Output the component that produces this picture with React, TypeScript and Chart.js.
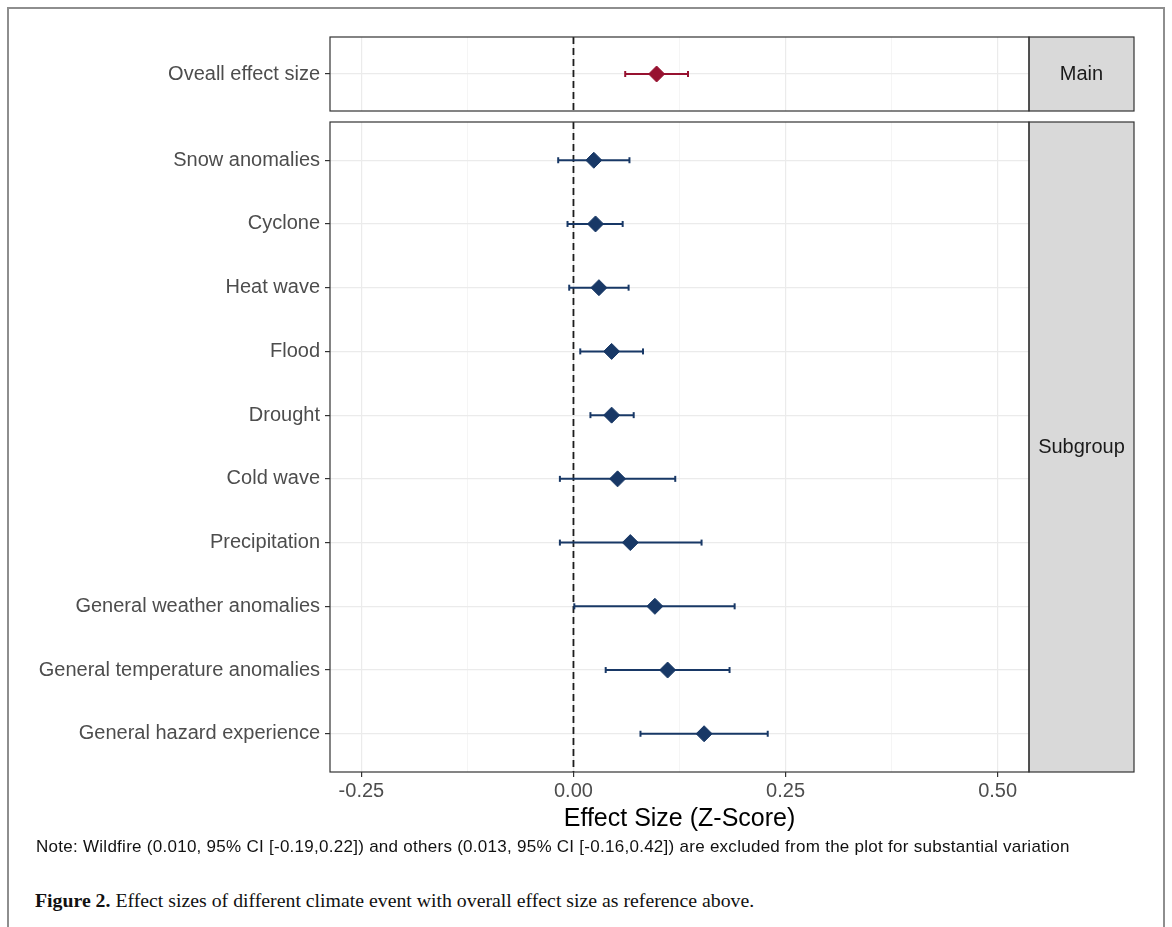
import React, { useEffect, useRef } from 'react';
import { Chart, registerables } from 'chart.js';

Chart.register(...registerables);

// ---------- data ----------
const mainLabels = ['Oveall effect size'];
const mainEst = [0.098];
const mainLo = [0.061];
const mainHi = [0.135];

const subLabels = [
  'Snow anomalies',
  'Cyclone',
  'Heat wave',
  'Flood',
  'Drought',
  'Cold wave',
  'Precipitation',
  'General weather anomalies',
  'General temperature anomalies',
  'General hazard experience',
];
const subEst = [0.024, 0.026, 0.030, 0.045, 0.045, 0.052, 0.067, 0.096, 0.111, 0.154];
const subLo = [-0.018, -0.007, -0.005, 0.008, 0.020, -0.016, -0.016, 0.001, 0.038, 0.079];
const subHi = [0.066, 0.058, 0.065, 0.082, 0.071, 0.120, 0.151, 0.190, 0.184, 0.229];

const xMajorTicks = [-0.25, 0, 0.25, 0.5];
const xMinorTicks = [-0.125, 0.125, 0.375];
const xTickLabels = ['-0.25', '0.00', '0.25', '0.50'];
const X_MIN = -0.287;
const X_MAX = 0.537;
const REF_LINE = 0;
const facetNames = ['Main', 'Subgroup'];
const xTitle = 'Effect Size (Z-Score)';
const noteText =
  'Note: Wildfire (0.010, 95% CI [-0.19,0.22]) and others (0.013, 95% CI [-0.16,0.42]) are excluded from the plot for substantial variation';
const captionBold = 'Figure 2.';
const captionText = ' Effect sizes of different climate event with overall effect size as reference above.';

const MAIN_COLOR = '#971230';
const SUB_COLOR = '#183866';
const SANS = "'Liberation Sans', Arial, Helvetica, sans-serif";

const isMajor = (v: number) => xMajorTicks.some((t) => Math.abs(t - v) < 1e-9);

const facetPlugin = {
  id: 'facet',
  afterDraw(chart: any, _args: any, opts: any) {
    const { ctx, chartArea } = chart;
    const { left, right, top, bottom } = chartArea;
    const w = 105;
    ctx.save();
    ctx.fillStyle = '#D9D9D9';
    ctx.fillRect(right, top, w, bottom - top);
    ctx.strokeStyle = '#333333';
    ctx.lineWidth = 1.2;
    ctx.strokeRect(left, top, right - left, bottom - top);
    ctx.strokeRect(right, top, w, bottom - top);
    ctx.fillStyle = '#1A1A1A';
    ctx.font = `20px ${SANS}`;
    ctx.textAlign = 'center';
    ctx.textBaseline = 'middle';
    ctx.fillText(opts.label, right + w / 2, (top + bottom) / 2);
    ctx.restore();
  },
};

function buildConfig(
  labels: string[],
  est: number[],
  lo: number[],
  hi: number[],
  color: string,
  facet: string,
  showX: boolean,
  padding: any,
  xHeight: number
): any {
  const n = labels.length;
  const yMin = -0.6;
  const yMax = n - 1 + 0.6;
  const datasets: any[] = [];
  datasets.push({
    type: 'line',
    data: [
      { x: REF_LINE, y: yMin },
      { x: REF_LINE, y: yMax },
    ],
    borderColor: '#1c1c1c',
    borderWidth: 1.8,
    borderDash: [7, 4],
    pointRadius: 0,
    order: 10,
  });
  for (let i = 0; i < n; i++) {
    datasets.push({
      type: 'line',
      data: [
        { x: lo[i], y: i },
        { x: hi[i], y: i },
      ],
      borderColor: color,
      borderWidth: 2,
      pointStyle: 'line',
      rotation: 90,
      pointRadius: 3,
      pointBorderWidth: 2,
      pointBorderColor: color,
      pointBackgroundColor: color,
      order: 5,
    });
  }
  datasets.push({
    type: 'scatter',
    data: est.map((v, i) => ({ x: v, y: i })),
    pointStyle: 'rectRot',
    pointRadius: 8,
    backgroundColor: color,
    borderColor: color,
    borderWidth: 1,
    order: 0,
  });

  return {
    type: 'scatter',
    data: { datasets },
    plugins: [facetPlugin],
    options: {
      animation: false,
      responsive: false,
      devicePixelRatio: 1,
      events: [],
      layout: { padding },
      plugins: {
        legend: { display: false },
        tooltip: { enabled: false },
        facet: { label: facet },
      },
      scales: {
        x: {
          type: 'linear',
          min: X_MIN,
          max: X_MAX,
          bounds: 'data',
          afterBuildTicks: (s: any) => {
            s.ticks = [...xMajorTicks, ...xMinorTicks]
              .sort((a, b) => a - b)
              .map((v) => ({ value: v }));
          },
          ticks: {
            display: showX,
            autoSkip: false,
            maxRotation: 0,
            padding: 2,
            color: '#4D4D4D',
            font: { family: SANS, size: 20 },
            callback: (v: number) => {
              const i = xMajorTicks.findIndex((t) => Math.abs(t - v) < 1e-9);
              return i >= 0 ? xTickLabels[i] : '';
            },
          },
          grid: {
            color: (c: any) => (c.tick && isMajor(c.tick.value) ? '#EBEBEB' : '#F2F2F2'),
            lineWidth: (c: any) => (c.tick && isMajor(c.tick.value) ? 1.2 : 0.8),
            drawTicks: showX,
            tickLength: 5,
            tickWidth: 1.2,
            tickColor: (c: any) =>
              showX && c.tick && isMajor(c.tick.value) ? '#333333' : 'rgba(0,0,0,0)',
          },
          border: { display: false },
          title: {
            display: showX,
            text: xTitle,
            color: '#000000',
            font: { family: SANS, size: 25 },
            padding: { top: 0, bottom: 0 },
          },
          afterFit: (s: any) => {
            s.height = xHeight;
          },
        },
        y: {
          type: 'linear',
          min: yMin,
          max: yMax,
          reverse: true,
          bounds: 'data',
          afterBuildTicks: (s: any) => {
            s.ticks = labels.map((_, i) => ({ value: i }));
          },
          ticks: {
            autoSkip: false,
            padding: 5,
            color: '#4D4D4D',
            font: { family: SANS, size: 20 },
            callback: (_v: number, idx: number) => labels[idx],
          },
          grid: {
            color: '#EBEBEB',
            lineWidth: 1.2,
            tickLength: 5,
            tickWidth: 1.2,
            tickColor: '#333333',
          },
          border: { display: false },
          afterFit: (s: any) => {
            s.width = 330;
          },
        },
      },
    },
  };
}

export default function App() {
  const topRef = useRef<HTMLCanvasElement | null>(null);
  const botRef = useRef<HTMLCanvasElement | null>(null);

  useEffect(() => {
    Chart.defaults.font.family = SANS;
    const c1 = new Chart(
      topRef.current as HTMLCanvasElement,
      buildConfig(
        mainLabels,
        mainEst,
        mainLo,
        mainHi,
        MAIN_COLOR,
        facetNames[0],
        false,
        { left: 0, right: 143, top: 37, bottom: 9 },
        0
      )
    );
    const c2 = new Chart(
      botRef.current as HTMLCanvasElement,
      buildConfig(
        subLabels,
        subEst,
        subLo,
        subHi,
        SUB_COLOR,
        facetNames[1],
        true,
        { left: 0, right: 143, top: 7, bottom: 0 },
        62
      )
    );
    return () => {
      c1.destroy();
      c2.destroy();
    };
  }, []);

  return (
    <div
      style={{
        position: 'absolute',
        left: 0,
        top: 0,
        width: 1172,
        height: 927,
        overflow: 'hidden',
        background: '#ffffff',
      }}
    >
      <div
        style={{
          position: 'absolute',
          left: 7,
          top: 7,
          width: 1158,
          height: 960,
          border: '2px solid #8E8E8E',
          boxSizing: 'border-box',
        }}
      />
      <canvas
        ref={topRef}
        width={1172}
        height={128}
        style={{ position: 'absolute', left: 0, top: 0, width: 1172, height: 128 }}
      />
      <canvas
        ref={botRef}
        width={1172}
        height={729}
        style={{ position: 'absolute', left: 0, top: 105, width: 1172, height: 729 }}
      />
      <div
        style={{
          position: 'absolute',
          left: 36,
          top: 837,
          fontFamily: SANS,
          fontSize: 17,
          letterSpacing: '0.27px',
          lineHeight: '20px',
          color: '#111111',
          whiteSpace: 'nowrap',
        }}
      >
        {noteText}
      </div>
      <div
        style={{
          position: 'absolute',
          left: 35,
          top: 888,
          fontFamily: "'Liberation Serif', 'Times New Roman', serif",
          fontSize: 19.8,
          lineHeight: '24px',
          color: '#111111',
          whiteSpace: 'nowrap',
        }}
      >
        <b>{captionBold}</b>
        {captionText}
      </div>
    </div>
  );
}
